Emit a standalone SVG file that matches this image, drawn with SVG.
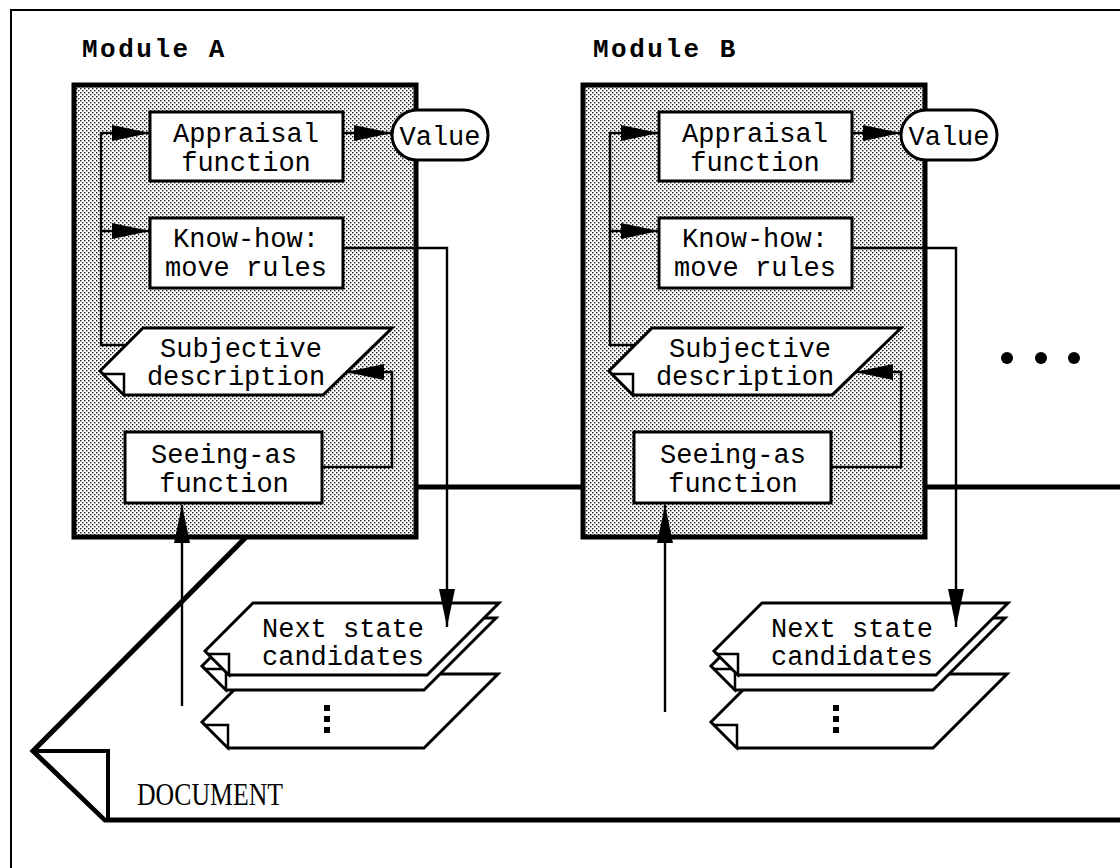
<svg xmlns="http://www.w3.org/2000/svg" width="1120" height="868" viewBox="0 0 1120 868">
  <defs>
    <!-- halftone screen used to shade the module panels -->
    <pattern id="halftone" width="4" height="4" patternUnits="userSpaceOnUse">
      <rect width="4" height="4" fill="#ffffff"/>
      <rect x="0" y="0" width="1.4" height="1.4" fill="#1a1a1a"/>
      <rect x="2" y="2" width="1.4" height="1.4" fill="#1a1a1a"/>
    </pattern>
    <marker id="arrow" markerWidth="38" markerHeight="18" refX="38" refY="9" orient="auto" markerUnits="userSpaceOnUse">
      <path d="M0,1 L38,9 L0,17 Z" fill="#000"/>
    </marker>
    <style>
      .module { fill: url(#halftone); stroke: #000; stroke-width: 5; }
      .box { fill: #fff; stroke: #000; stroke-width: 3; }
      .card { fill: #fff; stroke: #000; stroke-width: 3; stroke-linejoin: miter; }
      .fold { fill: #fff; stroke: #000; stroke-width: 2.5; }
      .doc { fill: #fff; stroke: #000; stroke-width: 5; stroke-linejoin: miter; }
      .docfold { fill: #fff; stroke: #000; stroke-width: 4; }
      .wire { fill: none; stroke: #000; stroke-width: 2.4; }
      .t { font-family: "Courier New", "Liberation Mono", monospace; font-size: 27px; text-anchor: middle; fill: #000; }
      .title { font-family: "Courier New", "Liberation Mono", monospace; font-size: 26px; font-weight: bold; letter-spacing: 2.5px; fill: #000; }
      .doclabel { font-family: "Liberation Serif", "Times New Roman", serif; font-size: 32px; fill: #000; }
    </style>
  </defs>

  <rect width="1120" height="868" fill="#fff"/>

  <!-- outer frame -->
  <path d="M11,868 V10 H1120" fill="none" stroke="#000" stroke-width="2"/>

  <!-- the document sheet lying behind both modules -->
  <g id="document">
    <path class="doc" d="M296,487 L1130,487 L1130,820 L105,820 L33,751 Z"/>
    <path class="docfold" d="M37,751 H108 V820"/>
    <text class="doclabel" x="137" y="805" textLength="146" lengthAdjust="spacingAndGlyphs">DOCUMENT</text>
  </g>

  <!-- Module A -->
  <g id="moduleA">
    <text class="title" x="82" y="57">Module A</text>
    <rect class="module" x="74" y="85" width="342" height="452"/>
  </g>
  <g id="A-appraisal">
    <rect class="box" x="150" y="112" width="193" height="69"/>
    <text class="t" x="246" y="142">Appraisal</text>
    <text class="t" x="246" y="171">function</text>
  </g>
  <g id="A-value">
    <rect class="box" x="392" y="110" width="96" height="50" rx="25"/>
    <text class="t" x="440" y="145">Value</text>
  </g>
  <g id="A-knowhow">
    <rect class="box" x="150" y="218" width="193" height="70"/>
    <text class="t" x="246" y="247">Know-how:</text>
    <text class="t" x="246" y="276">move rules</text>
  </g>
  <g id="A-subjective">
    <path class="card" d="M100,371 L143,328 L392,328 L323,395 L124,395 Z"/>
    <path class="fold" d="M103,374 H124 V395 Z"/>
    <text class="t" x="241" y="357">Subjective</text>
    <text class="t" x="236" y="385">description</text>
  </g>
  <g id="A-seeing">
    <rect class="box" x="125" y="432" width="197" height="71"/>
    <text class="t" x="224" y="463">Seeing-as</text>
    <text class="t" x="224" y="492">function</text>
  </g>
  <g id="A-candidates">
    <path class="card" d="M202,722 L250,674 L498,674 L424,748 L228,748 Z"/>
    <path class="fold" d="M205,725 H228 V748 Z"/>
    <rect x="324" y="705" width="6" height="6" fill="#000"/>
    <rect x="324" y="716" width="6" height="6" fill="#000"/>
    <rect x="324" y="727" width="6" height="6" fill="#000"/>
    <path class="card" d="M202,666 L250,618 L496,618 L424,690 L226,690 Z"/>
    <path class="fold" d="M205,669 H226 V690 Z"/>
    <path class="card" d="M205,651 L253,603 L499,603 L427,675 L229,675 Z"/>
    <path class="fold" d="M208,654 H229 V675 Z"/>
    <text class="t" x="343" y="637">Next state</text>
    <text class="t" x="343" y="665">candidates</text>
  </g>

  <!-- Module B -->
  <g id="moduleB">
    <text class="title" x="593" y="57">Module B</text>
    <rect class="module" x="583" y="85" width="342" height="452"/>
  </g>
  <g id="B-appraisal">
    <rect class="box" x="659" y="112" width="193" height="69"/>
    <text class="t" x="755" y="142">Appraisal</text>
    <text class="t" x="755" y="171">function</text>
  </g>
  <g id="B-value">
    <rect class="box" x="901" y="110" width="96" height="50" rx="25"/>
    <text class="t" x="949" y="145">Value</text>
  </g>
  <g id="B-knowhow">
    <rect class="box" x="659" y="218" width="193" height="70"/>
    <text class="t" x="755" y="247">Know-how:</text>
    <text class="t" x="755" y="276">move rules</text>
  </g>
  <g id="B-subjective">
    <path class="card" d="M609,371 L652,328 L901,328 L832,395 L633,395 Z"/>
    <path class="fold" d="M612,374 H633 V395 Z"/>
    <text class="t" x="750" y="357">Subjective</text>
    <text class="t" x="745" y="385">description</text>
  </g>
  <g id="B-seeing">
    <rect class="box" x="634" y="432" width="197" height="71"/>
    <text class="t" x="733" y="463">Seeing-as</text>
    <text class="t" x="733" y="492">function</text>
  </g>
  <g id="B-candidates">
    <path class="card" d="M711,722 L759,674 L1007,674 L933,748 L737,748 Z"/>
    <path class="fold" d="M714,725 H737 V748 Z"/>
    <rect x="833" y="705" width="6" height="6" fill="#000"/>
    <rect x="833" y="716" width="6" height="6" fill="#000"/>
    <rect x="833" y="727" width="6" height="6" fill="#000"/>
    <path class="card" d="M711,666 L759,618 L1005,618 L933,690 L735,690 Z"/>
    <path class="fold" d="M714,669 H735 V690 Z"/>
    <path class="card" d="M714,651 L762,603 L1008,603 L936,675 L738,675 Z"/>
    <path class="fold" d="M717,654 H738 V675 Z"/>
    <text class="t" x="852" y="637">Next state</text>
    <text class="t" x="852" y="665">candidates</text>
  </g>

  <!-- further modules continue to the right -->
  <g id="more-modules">
    <circle cx="1007" cy="358" r="6"/>
    <circle cx="1041" cy="358" r="6"/>
    <circle cx="1074" cy="358" r="6"/>
  </g>

  <g id="connectors">
    <!-- Module A -->
    <path class="wire" d="M126,345 H101 V133 H150" marker-end="url(#arrow)"/>
    <path class="wire" d="M101,231 H150" marker-end="url(#arrow)"/>
    <path class="wire" d="M343,133 H392" marker-end="url(#arrow)"/>
    <path class="wire" d="M343,248 H447 V627" marker-end="url(#arrow)"/>
    <path class="wire" d="M322,467 H392 V372 H346" marker-end="url(#arrow)"/>
    <path class="wire" d="M182,706 V505" marker-end="url(#arrow)"/>
    <!-- Module B -->
    <path class="wire" d="M635,345 H610 V133 H659" marker-end="url(#arrow)"/>
    <path class="wire" d="M610,231 H659" marker-end="url(#arrow)"/>
    <path class="wire" d="M852,133 H901" marker-end="url(#arrow)"/>
    <path class="wire" d="M852,248 H956 V627" marker-end="url(#arrow)"/>
    <path class="wire" d="M831,467 H901 V372 H855" marker-end="url(#arrow)"/>
    <path class="wire" d="M665,712 V505" marker-end="url(#arrow)"/>
  </g>
</svg>
